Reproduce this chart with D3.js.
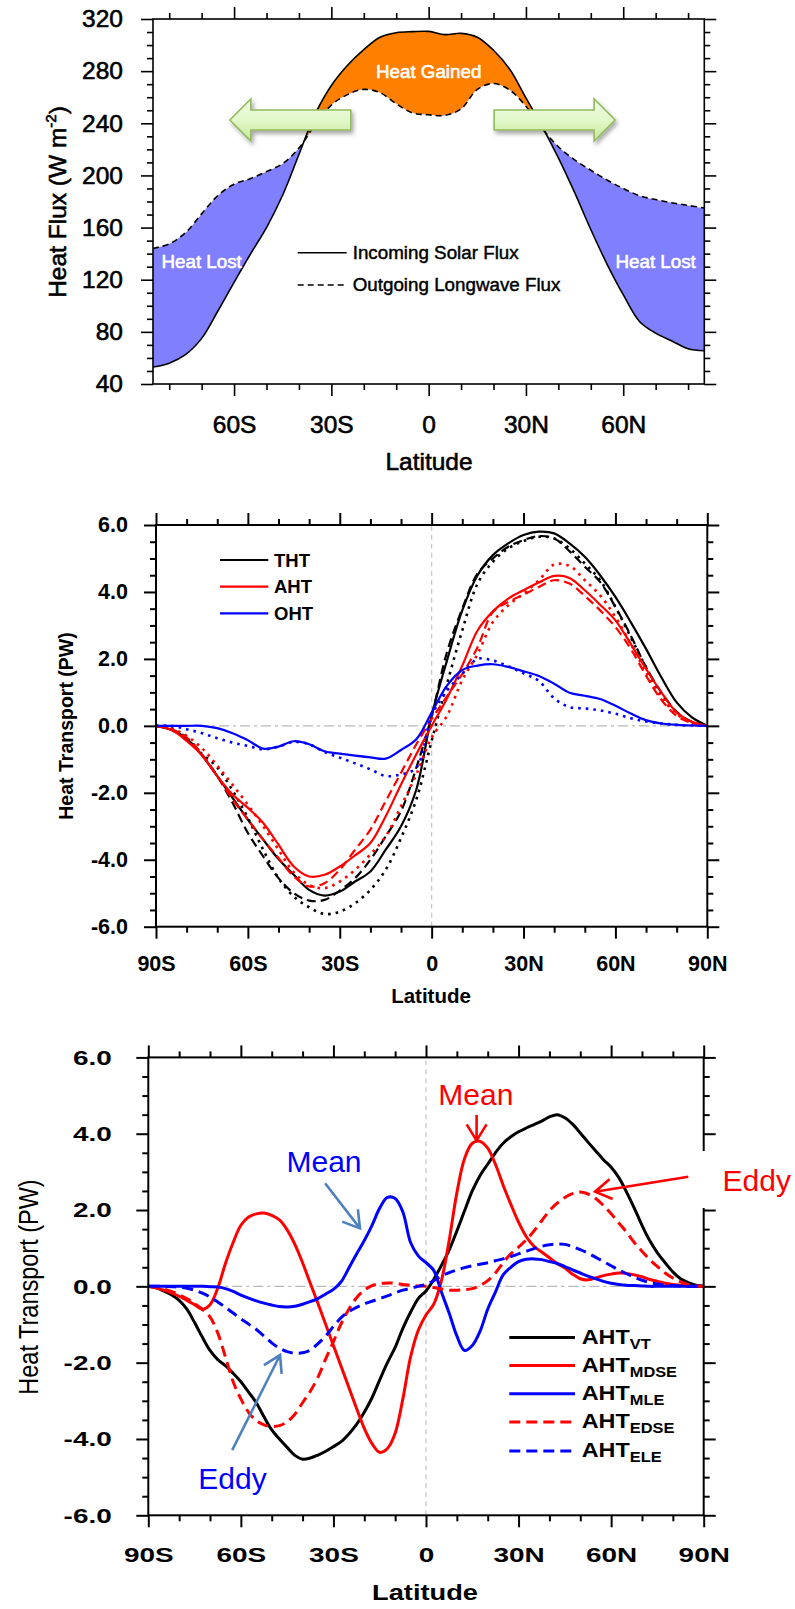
<!DOCTYPE html>
<html>
<head>
<meta charset="utf-8">
<script src="https://cdn.jsdelivr.net/npm/d3@7"></script>
<style>
  body { margin: 0; background: #fff; }
  svg { display: block; }
</style>
</head>
<body>
<script>
/*global d3*/
// Three stacked panels: TOA energy budget, meridional heat transport,
// and the mean / eddy split of the atmospheric transport.

// ---- panel 1: top of atmosphere fluxes (W m-2) ----
var fluxLat = [-85, -80, -75, -70, -65, -60, -55, -50, -45, -40, -35, -30, -25, -20, -15, -10, -5, 0,
               5, 10, 15, 20, 25, 30, 35, 40, 45, 50, 55, 60, 65, 70, 75, 80, 85];
var solarFlux = [53, 56, 62.5, 75, 96, 118, 139.5, 160, 185, 216, 247, 269, 284.5, 296.5, 306, 309.5, 310.3, 310.5,
                 308, 309, 306, 296, 281.5, 259.5, 237.5, 213.5, 187, 158.5, 132, 108.5, 88, 79, 73, 67, 65.5];
var olrFlux = [144, 147.5, 156, 170.5, 184.6, 193.3, 197.5, 203, 209, 221, 239, 254, 262, 266, 263.5, 255, 248, 246.5,
               246, 251, 266, 270.5, 265.5, 253, 236, 222, 212, 204, 196.5, 190, 184.5, 181.5, 179, 177, 175];
var fluxTicks = [40, 80, 120, 160, 200, 240, 280, 320];
var fluxMinor = [50, 60, 70, 90, 100, 110, 130, 140, 150, 170, 180, 190, 210, 220, 230, 250, 260, 270, 290, 300, 310];
var latTicks1 = [-60, -30, 0, 30, 60];
var latMinor = [-80, -70, -50, -40, -20, -10, 10, 20, 40, 50, 70, 80];

// ---- panel 2: heat transport (PW) ----
var transLat = [-90, -85, -80, -75, -70, -65, -60, -55, -50, -45, -40, -35, -30, -25, -20, -15, -10, -5, 0,
                5, 10, 15, 20, 25, 30, 35, 40, 45, 50, 55, 60, 65, 70, 75, 80, 85, 90];
var thtSolid = [0, -0.12, -0.38, -0.88, -1.5, -2.15, -2.8, -3.4, -3.98, -4.45, -4.9, -5.07, -4.95, -4.65, -4.35, -3.7, -3.0, -1.9, 0.3,
                1.95, 3.45, 4.5, 5.1, 5.45, 5.7, 5.8, 5.75, 5.45, 5.05, 4.5, 3.85, 3.1, 2.3, 1.45, 0.7, 0.25, 0];
var thtDash = [0, -0.1, -0.35, -0.85, -1.5, -2.3, -3.2, -3.9, -4.55, -5.0, -5.22, -5.2, -4.92, -4.55, -4.0, -3.3, -2.55, -1.25, 0.3,
               2.2, 3.5, 4.55, 5.0, 5.35, 5.55, 5.67, 5.6, 5.22, 4.75, 4.3, 3.55, 2.7, 1.75, 1.0, 0.42, 0.12, 0];
var thtDot = [0, -0.07, -0.42, -0.84, -1.24, -1.93, -2.75, -3.7, -4.55, -5.1, -5.42, -5.62, -5.55, -5.3, -4.9, -4.3, -3.35, -2.2, -0.45,
              1.25, 2.85, 4.25, 4.9, 5.3, 5.52, 5.65, 5.6, 5.3, 4.85, 4.35, 3.55, 2.65, 1.75, 0.95, 0.4, 0.1, 0];
var ahtSolid = [0, -0.12, -0.45, -0.88, -1.5, -2.05, -2.45, -2.9, -3.55, -4.2, -4.5, -4.45, -4.2, -3.87, -3.5, -2.7, -1.75, -0.85, 0.0,
                0.82, 1.8, 2.85, 3.42, 3.8, 4.05, 4.28, 4.48, 4.42, 4.05, 3.62, 3.15, 2.45, 1.7, 1.0, 0.4, 0.12, 0];
var ahtDash = [0, -0.1, -0.35, -0.85, -1.5, -2.2, -2.8, -3.4, -3.95, -4.5, -4.8, -4.7, -4.3, -3.7, -3.1, -2.25, -1.4, -0.55, 0.2,
               0.88, 1.55, 2.35, 3.4, 3.7, 3.92, 4.15, 4.35, 4.25, 3.88, 3.45, 2.95, 2.3, 1.5, 0.78, 0.3, 0.08, 0];
var ahtDot = [0, -0.08, -0.3, -0.67, -1.19, -1.76, -2.36, -3.0, -3.7, -4.38, -4.75, -4.85, -4.65, -4.3, -3.84, -3.3, -2.4, -1.45, -0.35,
              0.3, 1.37, 2.15, 3.1, 3.6, 3.95, 4.35, 4.82, 4.78, 4.35, 3.9, 3.25, 2.45, 1.6, 0.85, 0.35, 0.1, 0];
var ohtSolid = [0, 0, 0, 0, -0.07, -0.22, -0.43, -0.68, -0.62, -0.46, -0.55, -0.76, -0.83, -0.89, -0.94, -0.98, -0.72, -0.4, 0.4,
                1.2, 1.67, 1.8, 1.84, 1.76, 1.63, 1.49, 1.26, 0.99, 0.9, 0.8, 0.6, 0.37, 0.17, 0.07, 0.03, 0.01, 0];
var ohtDot = [0, 0, -0.1, -0.22, -0.37, -0.5, -0.6, -0.7, -0.62, -0.48, -0.55, -0.78, -0.95, -1.12, -1.3, -1.5, -1.45, -1.25, 0.3,
              1.05, 1.55, 2.0, 1.95, 1.78, 1.57, 1.34, 0.82, 0.56, 0.52, 0.46, 0.36, 0.23, 0.13, 0.07, 0.03, 0.01, 0];

// ---- panel 3: decomposition of atmospheric transport (PW) ----
var decLat = [-90, -87.5, -85, -82.5, -80, -77.5, -75, -72.5, -70, -67.5, -65, -62.5, -60, -57.5, -55, -52.5, -50, -47.5,
              -45, -42.5, -40, -37.5, -35, -32.5, -30, -27.5, -25, -22.5, -20, -17.5, -15, -12.5, -10, -7.5, -5, -2.5, 0,
              2.5, 5, 7.5, 10, 12.5, 15, 17.5, 20, 22.5, 25, 27.5, 30, 32.5, 35, 37.5, 40, 42.5, 45, 47.5, 50,
              52.5, 55, 57.5, 60, 62.5, 65, 67.5, 70, 72.5, 75, 77.5, 80, 82.5, 85, 87.5, 90];
var ahtVT = [0, -0.04, -0.12, -0.22, -0.37, -0.6, -0.95, -1.33, -1.68, -1.92,
             -2.08, -2.28, -2.5, -2.77, -3.05, -3.42, -3.76, -4.0, -4.22, -4.43,
             -4.53, -4.5, -4.42, -4.32, -4.2, -4.07, -3.87, -3.62, -3.3, -2.92,
             -2.45, -2.0, -1.6, -1.1, -0.68, -0.32, -0.12, 0.18, 0.55, 0.95,
             1.45, 1.98, 2.5, 2.9, 3.2, 3.5, 3.75, 3.92, 4.05, 4.15,
             4.24, 4.33, 4.44, 4.5, 4.42, 4.25, 4.02, 3.78, 3.55, 3.32,
             3.12, 2.85, 2.47, 2.05, 1.6, 1.2, 0.88, 0.62, 0.38, 0.2,
             0.1, 0.03, 0];
var ahtMDSE = [0, -0.04, -0.1, -0.17, -0.26, -0.37, -0.48, -0.6, -0.48, -0.05,
               0.6, 1.15, 1.6, 1.82, 1.9, 1.92, 1.86, 1.74, 1.48, 1.1,
               0.62, 0.08, -0.45, -1.0, -1.55, -2.1, -2.65, -3.2, -3.72, -4.12,
               -4.35, -4.25, -3.85, -2.95, -1.85, -1.15, -0.75, -0.47, 0.15, 1.2,
               2.45, 3.35, 3.75, 3.8, 3.62, 3.2, 2.65, 2.15, 1.68, 1.3,
               1.05, 0.9, 0.75, 0.6, 0.48, 0.32, 0.2, 0.17, 0.22, 0.28,
               0.32, 0.35, 0.34, 0.3, 0.25, 0.18, 0.13, 0.08, 0.05, 0.03,
               0.01, 0, 0];
var ahtMLE = [0, 0, 0, 0, 0, 0, 0, 0, -0.01, -0.02,
              -0.06, -0.13, -0.23, -0.31, -0.38, -0.44, -0.49, -0.53, -0.54, -0.52,
              -0.47, -0.4, -0.32, -0.2, -0.08, 0.12, 0.48, 0.85, 1.2, 1.6,
              2.05, 2.33, 2.3, 1.95, 1.15, 0.8, 0.62, 0.42, -0.15, -0.7,
              -1.3, -1.68, -1.55, -1.18, -0.6, -0.15, 0.3, 0.5, 0.65, 0.71,
              0.72, 0.7, 0.65, 0.6, 0.52, 0.43, 0.35, 0.27, 0.2, 0.13,
              0.08, 0.05, 0.03, 0.02, 0.01, 0, 0, 0, 0, 0,
              0, 0, 0];
var ahtEDSE = [0, -0.03, -0.07, -0.13, -0.22, -0.32, -0.45, -0.6, -0.8, -1.22,
               -1.85, -2.5, -2.95, -3.3, -3.52, -3.63, -3.67, -3.65, -3.55, -3.35,
               -3.05, -2.75, -2.38, -1.9, -1.45, -0.98, -0.6, -0.3, -0.1, 0.02,
               0.07, 0.09, 0.08, 0.05, 0.03, 0.01, 0, -0.03, -0.07, -0.1,
               -0.1, -0.09, -0.06, 0.02, 0.15, 0.35, 0.62, 0.85, 1.03, 1.22,
               1.45, 1.72, 1.98, 2.18, 2.33, 2.43, 2.47, 2.42, 2.3, 2.12,
               1.9, 1.66, 1.42, 1.15, 0.92, 0.7, 0.52, 0.35, 0.22, 0.12,
               0.05, 0.01, 0];
var ahtELE = [0, 0, 0, -0.01, -0.02, -0.05, -0.1, -0.18, -0.28, -0.41,
              -0.55, -0.7, -0.85, -0.99, -1.13, -1.3, -1.48, -1.62, -1.71, -1.75,
              -1.74, -1.67, -1.5, -1.3, -1.05, -0.82, -0.66, -0.55, -0.46, -0.39,
              -0.32, -0.25, -0.17, -0.1, -0.05, 0, 0.05, 0.15, 0.27, 0.36,
              0.43, 0.49, 0.54, 0.58, 0.62, 0.67, 0.72, 0.78, 0.85, 0.92,
              0.99, 1.05, 1.09, 1.11, 1.1, 1.04, 0.96, 0.87, 0.76, 0.65,
              0.54, 0.43, 0.33, 0.24, 0.16, 0.1, 0.06, 0.03, 0.02, 0.01,
              0, 0, 0];
var pwTicks = [-6, -4, -2, 0, 2, 4, 6];
var pwMinor = [-5.5, -5, -4.5, -3.5, -3, -2.5, -1.5, -1, -0.5, 0.5, 1, 1.5, 2.5, 3, 3.5, 4.5, 5, 5.5];
var latTicks = [-90, -60, -30, 0, 30, 60, 90];

var FONT = '"Liberation Sans", Arial, Helvetica, sans-serif';
var curve = d3.curveCatmullRom.alpha(0.5);

var svg = d3.select('body').append('svg')
    .attr('width', 795).attr('height', 1609)
    .style('font-family', FONT);
var defs = svg.append('defs');

function latFmt(d) {
    return d === 0 ? '0' : Math.abs(d) + (d < 0 ? 'S' : 'N');
}

function pwFmt(d) {
    return d.toFixed(1);
}

// squeeze / stretch text horizontally around its anchor
function stretch(sel, s) {
    sel.each(function () {
        var t = d3.select(this),
            tx = +t.attr('x') || 0;
        t.attr('x', 0).attr('transform', 'translate(' + tx + ',0) scale(' + s + ',1)');
    });
}

// thicken regular-weight text a little (the original looks heavier)
function heavy(sel, colour, w) {
    return sel.attr('stroke', colour).attr('stroke-width', w).attr('stroke-linejoin', 'round');
}

// box + outward major/minor ticks on all four sides
function frame(g, x, y, o) {
    var xr = x.range(), yr = y.range(),
        sides = [
            [d3.axisBottom, x, 'translate(0,' + yr[0] + ')', o.xMajor, o.xMinor, o.xFmt, o.xPad],
            [d3.axisTop, x, 'translate(0,' + yr[1] + ')', o.xMajor, o.xMinor, null, 0],
            [d3.axisLeft, y, 'translate(' + xr[0] + ',0)', o.yMajor, o.yMinor, o.yFmt, o.yPad],
            [d3.axisRight, y, 'translate(' + xr[1] + ',0)', o.yMajor, o.yMinor, null, 0]
        ];

    sides.forEach(function (s, i) {
        var minor = g.append('g').attr('transform', s[2])
            .call(s[0](s[1]).tickValues(s[4]).tickSize(o.minorLen).tickSizeOuter(0).tickFormat(''));
        minor.select('.domain').remove();
        minor.selectAll('line').attr('stroke', '#000').attr('stroke-width', o.lw);

        var major = g.append('g').attr('transform', s[2])
            .call(s[0](s[1]).tickValues(s[3]).tickSize(o.majorLen).tickSizeOuter(0)
                  .tickPadding(s[6]).tickFormat(s[5] || ''));
        major.select('.domain').remove();
        major.selectAll('line').attr('stroke', '#000').attr('stroke-width', o.lw);
        major.attr('font-family', FONT).attr('font-size', o.fs).attr('font-weight', o.fw);
        major.selectAll('text').attr('fill', '#000');
        if (o.ts) {
            heavy(major.selectAll('text'), '#000', o.ts);
        }
        if (o.stretch && s[5]) {
            if (i === 2) {
                stretch(major.selectAll('text'), o.stretch);
            } else {
                major.selectAll('text').attr('transform', 'scale(' + o.stretch + ',1)');
            }
        }
    });

    g.append('rect')
        .attr('x', xr[0]).attr('y', yr[1])
        .attr('width', xr[1] - xr[0]).attr('height', yr[0] - yr[1])
        .attr('fill', 'none').attr('stroke', '#000').attr('stroke-width', o.lw);
}

function zeroLines(g, x, y) {
    g.append('line')
        .attr('x1', x.range()[0]).attr('x2', x.range()[1])
        .attr('y1', y(0)).attr('y2', y(0))
        .attr('stroke', '#b8b8b8').attr('stroke-width', 1.3)
        .attr('stroke-dasharray', '10,4,3,4');
    g.append('line')
        .attr('x1', x(0)).attr('x2', x(0))
        .attr('y1', y.range()[0]).attr('y2', y.range()[1])
        .attr('stroke', '#c8c8c8').attr('stroke-width', 1.3)
        .attr('stroke-dasharray', '5,4');
}

function drawSeries(g, x, y, lat, list) {
    list.forEach(function (s) {
        var line = d3.line()
            .x(function (d) { return x(d[0]); })
            .y(function (d) { return y(d[1]); })
            .curve(curve);
        g.append('path')
            .attr('d', line(d3.zip(lat, s.values)))
            .attr('fill', 'none')
            .attr('stroke', s.color)
            .attr('stroke-width', s.width)
            .attr('stroke-dasharray', s.dash);
    });
}

// ================= panel 1 =================
(function () {
    var g = svg.append('g'),
        x = d3.scaleLinear().domain([-85, 85]).range([153, 704.3]),
        y = d3.scaleLinear().domain([40, 320]).range([384, 19]),
        rows = fluxLat.map(function (d, i) { return [d, solarFlux[i], olrFlux[i]]; }),
        px = function (d) { return x(d[0]); };

    defs.append('clipPath').attr('id', 'aboveOlr').append('path')
        .attr('d', d3.area().x(px).y0(y.range()[1]).y1(function (d) { return y(d[2]); }).curve(curve)(rows));
    defs.append('clipPath').attr('id', 'belowOlr').append('path')
        .attr('d', d3.area().x(px).y0(function (d) { return y(d[2]); }).y1(y.range()[0]).curve(curve)(rows));

    var band = d3.area().x(px)
        .y0(function (d) { return y(d[2]); })
        .y1(function (d) { return y(d[1]); })
        .curve(curve);

    g.append('path').attr('d', band(rows)).attr('fill', '#ff8000').attr('clip-path', 'url(#aboveOlr)');
    g.append('path').attr('d', band(rows)).attr('fill', '#8080ff').attr('clip-path', 'url(#belowOlr)');

    drawSeries(g, x, y, fluxLat, [
        {values: solarFlux, color: '#000', width: 1.6, dash: null},
        {values: olrFlux, color: '#000', width: 1.6, dash: '6,4'}
    ]);

    // region labels
    [['Heat Gained', 0, 274.5], ['Heat Lost', -70, 129.2], ['Heat Lost', 70, 129.2]].forEach(function (t) {
        heavy(g.append('text')
            .attr('x', x(t[1])).attr('y', y(t[2]))
            .attr('text-anchor', 'middle')
            .attr('font-size', 18.8)
            .attr('fill', '#fff'), '#fff', 0.6)
            .text(t[0]);
    });

    // green transport arrows
    var grad = defs.append('linearGradient').attr('id', 'arrowFill')
        .attr('x1', 0).attr('y1', 0).attr('x2', 0).attr('y2', 1);
    grad.append('stop').attr('offset', 0).attr('stop-color', '#f4fdea');
    grad.append('stop').attr('offset', 0.5).attr('stop-color', '#e2f8c9');
    grad.append('stop').attr('offset', 1).attr('stop-color', '#c6e89c');

    var shadow = defs.append('filter').attr('id', 'arrowShadow')
        .attr('x', '-20%').attr('y', '-40%').attr('width', '150%').attr('height', '200%');
    shadow.append('feDropShadow')
        .attr('dx', 2).attr('dy', 3).attr('stdDeviation', 2)
        .attr('flood-color', '#000').attr('flood-opacity', 0.35);

    [[-24, -61.3], [20.2, 57.5]].forEach(function (a) {
        var tail = x(a[0]), tip = x(a[1]), cy = y(242.5),
            dir = tip > tail ? 1 : -1,
            base = tip - dir * 21,
            pts = [[tail, cy - 10], [base, cy - 10], [base, cy - 21], [tip, cy],
                   [base, cy + 21], [base, cy + 10], [tail, cy + 10]];
        g.append('path')
            .attr('d', 'M' + pts.join('L') + 'Z')
            .attr('fill', 'url(#arrowFill)')
            .attr('stroke', '#92bb5e').attr('stroke-width', 1.6)
            .attr('filter', 'url(#arrowShadow)');
    });

    // legend
    [['Incoming Solar Flux', 252.7, null], ['Outgoing Longwave Flux', 285, '6,4']].forEach(function (l) {
        g.append('line')
            .attr('x1', 297.7).attr('x2', 346.7).attr('y1', l[1]).attr('y2', l[1])
            .attr('stroke', '#000').attr('stroke-width', 1.6).attr('stroke-dasharray', l[2]);
        heavy(g.append('text')
            .attr('x', 352.7).attr('y', l[1] + 6)
            .attr('font-size', 18.8), '#000', 0.45)
            .text(l[0]);
    });

    frame(g, x, y, {
        xMajor: latTicks1, xMinor: latMinor, xFmt: latFmt, xPad: 20,
        yMajor: fluxTicks, yMinor: fluxMinor, yFmt: d3.format('d'), yPad: 18,
        majorLen: 12, minorLen: 6, lw: 1.6, fs: 24.5, fw: 'normal', ts: 0.6
    });

    heavy(g.append('text')
        .attr('x', 429).attr('y', 470)
        .attr('text-anchor', 'middle').attr('font-size', 24.5), '#000', 0.6)
        .text('Latitude');

    var yl = heavy(g.append('text')
        .attr('transform', 'translate(66,202) rotate(-90)')
        .attr('text-anchor', 'middle').attr('font-size', 24.5), '#000', 0.6);
    yl.append('tspan').text('Heat Flux (W m');
    yl.append('tspan').attr('dy', -10).attr('font-size', 15).text('-2');
    yl.append('tspan').attr('dy', 10).text(')');
}());

// ================= panel 2 =================
(function () {
    var g = svg.append('g'),
        x = d3.scaleLinear().domain([-90, 90]).range([156, 707.3]),
        y = d3.scaleLinear().domain([-6, 6]).range([926.7, 525]);

    zeroLines(g, x, y);

    drawSeries(g, x, y, transLat, [
        {values: thtSolid, color: '#000', width: 2.2, dash: null},
        {values: thtDash, color: '#000', width: 2.2, dash: '9,5'},
        {values: thtDot, color: '#000', width: 2.6, dash: '2.6,5'},
        {values: ahtSolid, color: '#ff0000', width: 2.2, dash: null},
        {values: ahtDash, color: '#ff0000', width: 2.2, dash: '9,5'},
        {values: ahtDot, color: '#ff0000', width: 2.6, dash: '2.6,5'},
        {values: ohtSolid, color: '#0000ff', width: 2.2, dash: null},
        {values: ohtDot, color: '#0000ff', width: 2.6, dash: '2.6,5'}
    ]);

    [['THT', '#000', 560], ['AHT', '#ff0000', 586.7], ['OHT', '#0000ff', 613.3]].forEach(function (l) {
        g.append('line')
            .attr('x1', 220).attr('x2', 268.3).attr('y1', l[2]).attr('y2', l[2])
            .attr('stroke', l[1]).attr('stroke-width', 2.2);
        g.append('text')
            .attr('x', 274).attr('y', l[2] + 6.7)
            .attr('font-size', 18.5).attr('font-weight', 'bold')
            .text(l[0]);
    });

    frame(g, x, y, {
        xMajor: latTicks, xMinor: latMinor, xFmt: latFmt, xPad: 17,
        yMajor: pwTicks, yMinor: pwMinor, yFmt: pwFmt, yPad: 16,
        majorLen: 12, minorLen: 6, lw: 2, fs: 21.5, fw: 'bold'
    });

    g.append('text')
        .attr('x', 431).attr('y', 1003)
        .attr('text-anchor', 'middle').attr('font-size', 20.5).attr('font-weight', 'bold')
        .text('Latitude');

    g.append('text')
        .attr('transform', 'translate(73,726) rotate(-90)')
        .attr('text-anchor', 'middle').attr('font-size', 19.5).attr('font-weight', 'bold')
        .text('Heat Transport (PW)');
}());

// ================= panel 3 =================
(function () {
    var g = svg.append('g'),
        x = d3.scaleLinear().domain([-90, 90]).range([148.3, 703.7]),
        y = d3.scaleLinear().domain([-6, 6]).range([1515.3, 1057.4]),
        red = '#ff0000', blue = '#0000ff', steel = '#4f81bd';

    zeroLines(g, x, y);

    drawSeries(g, x, y, decLat, [
        {values: ahtVT, color: '#000', width: 3, dash: null},
        {values: ahtMDSE, color: red, width: 3, dash: null},
        {values: ahtMLE, color: blue, width: 3, dash: null},
        {values: ahtEDSE, color: red, width: 3, dash: '11,6'},
        {values: ahtELE, color: blue, width: 3, dash: '11,6'}
    ]);

    frame(g, x, y, {
        xMajor: latTicks, xMinor: latMinor, xFmt: latFmt, xPad: 20,
        yMajor: pwTicks, yMinor: pwMinor, yFmt: pwFmt, yPad: 24.6,
        majorLen: 12, minorLen: 6, lw: 2, fs: 21, fw: 'bold', stretch: 1.33
    });

    // the red "Eddy" label sits over a gap in the right axis
    g.append('rect')
        .attr('x', 700).attr('y', 1151)
        .attr('width', 40).attr('height', 57)
        .attr('fill', '#fff');

    // annotation arrows: [fromLat, fromPW, toLat, toPW, colour]
    [[-32.7, 2.7, -21.4, 1.52, steel],
     [-62.8, -4.29, -47.3, -1.8, steel],
     [16.4, 4.49, 16.4, 3.82, red],
     [85, 2.87, 54.8, 2.48, red]].forEach(function (a) {
        var x0 = x(a[0]), y0 = y(a[1]), x1 = x(a[2]), y1 = y(a[3]),
            ang = Math.atan2(y1 - y0, x1 - x0),
            len = 19, spread = 0.55,
            h1 = [x1 - len * Math.cos(ang - spread), y1 - len * Math.sin(ang - spread)],
            h2 = [x1 - len * Math.cos(ang + spread), y1 - len * Math.sin(ang + spread)];
        g.append('path')
            .attr('d', 'M' + x0 + ',' + y0 + 'L' + x1 + ',' + y1 +
                  'M' + h1 + 'L' + x1 + ',' + y1 + 'L' + h2)
            .attr('fill', 'none').attr('stroke', a[4]).attr('stroke-width', 2.6);
    });

    [['Mean', -33.06, 2.99, blue], ['Eddy', -62.7, -5.31, blue],
     ['Mean', 16.17, 4.75, red], ['Eddy', 107.2, 2.51, red]].forEach(function (t) {
        g.append('text')
            .attr('x', x(t[1])).attr('y', y(t[2]))
            .attr('text-anchor', 'middle')
            .attr('font-size', 30).attr('fill', t[3])
            .text(t[0]);
    });

    // legend
    [['VT', '#000', null, 1337.5], ['MDSE', red, null, 1365.5], ['MLE', blue, null, 1393.8],
     ['EDSE', red, '11,6', 1422.1], ['ELE', blue, '11,6', 1451.1]].forEach(function (l) {
        g.append('line')
            .attr('x1', 509.3).attr('x2', 575).attr('y1', l[3]).attr('y2', l[3])
            .attr('stroke', l[1]).attr('stroke-width', 3).attr('stroke-dasharray', l[2]);
        var t = g.append('text')
            .attr('transform', 'translate(581.7,' + (l[3] + 6) + ') scale(1.17,1)')
            .attr('font-size', 20).attr('font-weight', 'bold');
        t.append('tspan').text('AHT');
        t.append('tspan').attr('dy', 5).attr('font-size', 14).text(l[0]);
    });

    g.append('text')
        .attr('transform', 'translate(425,1600) scale(1.21,1)')
        .attr('text-anchor', 'middle').attr('font-size', 22.5).attr('font-weight', 'bold')
        .text('Latitude');

    g.append('text')
        .attr('transform', 'translate(37.7,1287) rotate(-90) scale(1,1.18)')
        .attr('text-anchor', 'middle').attr('font-size', 23.5)
        .text('Heat Transport (PW)');
}());
</script>
</body>
</html>
